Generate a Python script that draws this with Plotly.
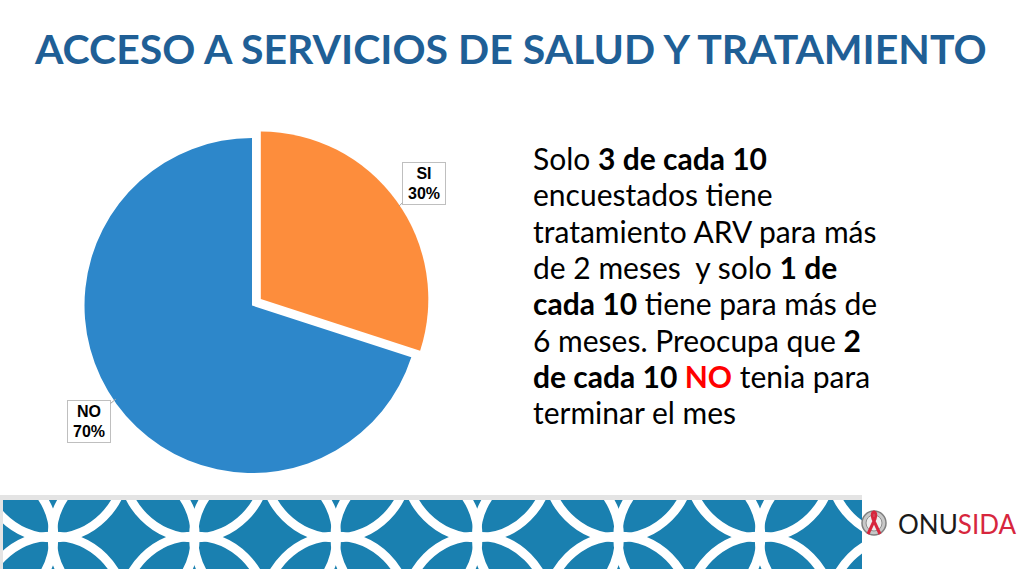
import plotly.graph_objects as go

# ---- data ----
categories = ["SI", "NO"]
values = [30, 70]
slice_colors = ["#FD8D3C", "#2D87CA"]
title_text = "ACCESO A SERVICIOS DE SALUD Y TRATAMIENTO"
body_lines = [
    "Solo <b>3 de cada 10</b>",
    "encuestados tiene",
    "tratamiento ARV para más",
    "de 2 meses  y solo <b>1 de</b>",
    "<b>cada 10</b> tiene para más de",
    "6 meses. Preocupa que <b>2</b>",
    "<b>de cada 10 <span style='color:#FF0000'>NO</span></b> tenia para",
    "terminar el mes",
]

W, H = 1024, 576
fig = go.Figure()

fig.add_trace(go.Pie(
    labels=categories, values=values, sort=False, direction="clockwise",
    rotation=0, pull=[0.065, 0], textinfo="none", hoverinfo="label+percent",
    marker=dict(colors=slice_colors, line=dict(width=0)),
    domain=dict(x=[0.0719, 0.4203], y=[0.1599, 0.7793]), showlegend=False,
))

# invisible traces to create the decoration axes
fig.add_trace(go.Scatter(x=[None], y=[None], xaxis="x", yaxis="y", showlegend=False, hoverinfo="skip"))
fig.add_trace(go.Scatter(x=[None], y=[None], xaxis="x2", yaxis="y2", showlegend=False, hoverinfo="skip"))

shapes = []
# band (axis x/y, clipped)
shapes.append(dict(type="rect", xref="x", yref="y", x0=3, x1=862, y0=500, y1=569,
                   fillcolor="#1A80B0", line=dict(width=0), layer="above"))
r = 71.5
P = 141.4
cy = 537
for k in range(0, 8):
    cx = 53 - P / 2 + P * k
    shapes.append(dict(type="circle", xref="x", yref="y", x0=cx - r, x1=cx + r, y0=cy - r, y1=cy + r,
                       line=dict(color="white", width=9), layer="above"))
for k in range(-1, 7):
    cx = 53 + P * k
    for dy in (-P / 2, P / 2):
        shapes.append(dict(type="circle", xref="x", yref="y", x0=cx - r, x1=cx + r,
                           y0=cy + dy - r, y1=cy + dy + r,
                           line=dict(color="white", width=9), layer="above"))
# gray strip above band
shapes.append(dict(type="rect", xref="x2", yref="y2", x0=0, x1=862, y0=495, y1=500,
                   fillcolor="#E4E4E4", line=dict(width=0)))
shapes.append(dict(type="rect", xref="x2", yref="y2", x0=0, x1=3, y0=495, y1=569,
                   fillcolor="#E4E4E4", line=dict(width=0)))
# logo emblem
shapes.append(dict(type="circle", xref="x2", yref="y2", x0=862, x1=886, y0=511, y1=535,
                   fillcolor="#C8C8C8", line=dict(color="#7F7F7F", width=1.5)))
shapes.append(dict(type="circle", xref="x2", yref="y2", x0=866, x1=882, y0=515, y1=531,
                   fillcolor="#EDEDED", line=dict(color="#8F8F8F", width=1)))
shapes.append(dict(type="path", xref="x2", yref="y2",
                   path="M 868 534 L 875 519 Q 877 513 874 512 Q 871 513 873 519 L 880 534",
                   line=dict(color="#D7263D", width=3)))

annotations = []
annotations.append(dict(text=f"<b>{title_text}</b>", xref="paper", yref="paper",
                        x=510 / W, y=1 - 48 / H, xanchor="center", yanchor="middle",
                        showarrow=False, font=dict(family="Lato", size=41, color="#1F5F96")))
for i, line in enumerate(body_lines):
    annotations.append(dict(text=line, xref="paper", yref="paper",
                            x=531 / W, y=1 - (158 + 36.3 * i) / H, xanchor="left", yanchor="middle",
                            align="left", showarrow=False,
                            font=dict(family="Lato", size=30, color="#000000")))

# pie labels with callouts
label_pos = {"SI": (399, 206, 25, -23), "NO": (116, 399, -27, 22)}
for c, v in zip(categories, values):
    tx, ty, ax, ay = label_pos[c]
    annotations.append(dict(text=f"<b>{c}<br>{v}%</b>", xref="x2", yref="y2", x=tx, y=ty,
                            ax=ax, ay=ay, axref="pixel", ayref="pixel", showarrow=True,
                            arrowhead=0, arrowwidth=1, arrowcolor="#A6A6A6", standoff=0,
                            width=40, height=39, align="center",
                            bgcolor="white", bordercolor="#BFBFBF", borderwidth=1, borderpad=1,
                            font=dict(family="Liberation Sans", size=16, color="#000000")))

annotations.append(dict(text="ONU<span style='color:#D7263D'>SIDA</span>", xref="x2", yref="y2",
                        x=896, y=524, xanchor="left", yanchor="middle", showarrow=False,
                        font=dict(family="Lato", size=26, color="#1A1A1A")))

fig.update_layout(
    width=W, height=H, margin=dict(l=0, r=0, t=0, b=0),
    paper_bgcolor="white", plot_bgcolor="rgba(0,0,0,0)",
    xaxis=dict(domain=[0, 862 / W], range=[0, 862], visible=False, fixedrange=True),
    yaxis=dict(domain=[1 - 569 / H, 1 - 500 / H], range=[569, 500], visible=False, fixedrange=True),
    xaxis2=dict(domain=[0, 1], range=[0, W], visible=False, fixedrange=True, anchor="y2"),
    yaxis2=dict(domain=[0, 1], range=[H, 0], visible=False, fixedrange=True, anchor="x2"),
    shapes=shapes, annotations=annotations,
)

fig.write_html("out.html", config={"displayModeBar": False},
               post_script="document.body.style.margin='0';document.body.style.padding='0';")
